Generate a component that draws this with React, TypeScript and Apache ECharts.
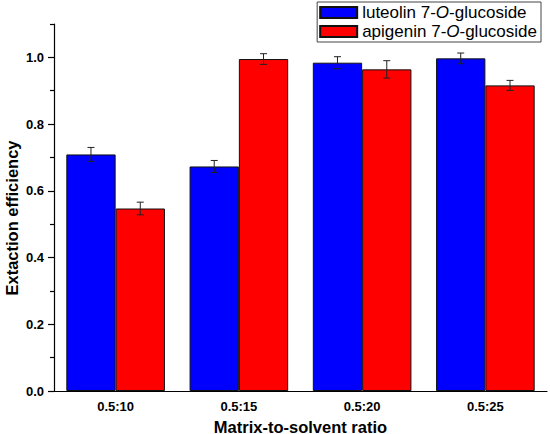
import { useEffect, useRef } from "react";
import * as echarts from "echarts";

const categories = ["0.5:10", "0.5:15", "0.5:20", "0.5:25"];
const luteolin = [0.709, 0.673, 0.984, 0.997];
const luteolinErr = [0.021, 0.018, 0.018, 0.016];
const apigenin = [0.547, 0.995, 0.964, 0.916];
const apigeninErr = [0.019, 0.016, 0.026, 0.015];
const yMajor = [0, 0.2, 0.4, 0.6, 0.8, 1.0];
const yMinor = [0.1, 0.3, 0.5, 0.7, 0.9, 1.1];

const FONT = "Arial, 'Liberation Sans', sans-serif";

function errorSeries(values: number[], errs: number[], offset: number) {
  return {
    type: "custom",
    z: 5,
    silent: true,
    xAxisIndex: 0,
    yAxisIndex: 0,
    encode: { x: 0, y: [1, 2] },
    data: values.map((v, i) => [i, v - errs[i], v + errs[i]]),
    renderItem: (_params: any, api: any) => {
      const i = api.value(0);
      const lo = api.coord([i, api.value(1)]);
      const hi = api.coord([i, api.value(2)]);
      const band = api.size([1, 0])[0];
      const x = hi[0] + offset * band;
      const cap = 3.5;
      const style = { stroke: "#222", lineWidth: 1 };
      return {
        type: "group",
        children: [
          { type: "line", shape: { x1: x, y1: hi[1], x2: x, y2: lo[1] }, style },
          { type: "line", shape: { x1: x - cap, y1: hi[1], x2: x + cap, y2: hi[1] }, style },
          { type: "line", shape: { x1: x - cap, y1: lo[1], x2: x + cap, y2: lo[1] }, style },
        ],
      };
    },
  };
}

export default function App() {
  const ref = useRef<HTMLDivElement | null>(null);

  useEffect(() => {
    if (!ref.current) return;
    const chart = echarts.init(ref.current, undefined, { renderer: "svg" });

    // italic O in "7-O-glucoside"
    const legendFormatter = (name: string) => {
      const parts = name.split("7-O-");
      return parts[0] + "7-{i|O}-" + parts[1];
    };

    const option: any = {
      animation: false,
      backgroundColor: "#fff",
      textStyle: { fontFamily: FONT },
      grid: { left: 54, right: 3, top: 24, bottom: 43, containLabel: false, outerBoundsMode: "none" },
      legend: {
        data: ["luteolin 7-O-glucoside", "apigenin 7-O-glucoside"],
        orient: "vertical",
        right: 9,
        top: 2,
        itemWidth: 37,
        itemHeight: 11,
        itemGap: 0,
        padding: [1, 4, 1, 2],
        borderColor: "#444",
        borderWidth: 1,
        icon: "rect",
        formatter: legendFormatter,
        textStyle: {
          fontFamily: FONT,
          fontSize: 17,
          lineHeight: 19,
          color: "#000",
          rich: { i: { fontStyle: "italic", fontSize: 17, lineHeight: 19, fontFamily: FONT, color: "#000" } },
        },
      },
      xAxis: [
        {
          type: "category",
          data: categories,
          name: "Matrix-to-solvent ratio",
          nameLocation: "middle",
          nameGap: 27,
          nameTextStyle: { fontFamily: FONT, fontSize: 16.5, fontWeight: "bold", color: "#000" },
          axisLine: { lineStyle: { color: "#000", width: 1.2 } },
          axisTick: { alignWithLabel: true, length: 6, lineStyle: { color: "#000", width: 1.2 } },
          axisLabel: { fontFamily: FONT, fontSize: 13, fontWeight: "bold", color: "#000", margin: 9 },
        },
        {
          type: "category",
          data: categories,
          position: "bottom",
          axisLine: { show: false },
          axisTick: { length: 4, lineStyle: { color: "#000", width: 1.2 } },
          axisLabel: { show: false },
        },
      ],
      yAxis: [
        {
          type: "value",
          min: 0,
          max: 1.1,
          name: "Extaction efficiency",
          nameLocation: "middle",
          nameGap: 34,
          nameMoveOverlap: false,
          nameTextStyle: {
            fontFamily: FONT,
            fontSize: 16.5,
            lineHeight: 17,
            fontWeight: "bold",
            color: "#000",
            padding: [0, 21, 0, 0],
          },
          splitLine: { show: false },
          axisLine: { show: true, lineStyle: { color: "#000", width: 1.2 } },
          axisTick: { show: true, length: 6, customValues: yMajor, lineStyle: { color: "#000", width: 1.2 } },
          axisLabel: {
            customValues: yMajor,
            formatter: (v: number) => v.toFixed(1),
            fontFamily: FONT,
            fontSize: 13,
            fontWeight: "bold",
            color: "#000",
            margin: 10,
          },
        },
        {
          type: "value",
          min: 0,
          max: 1.1,
          position: "left",
          splitLine: { show: false },
          axisLine: { show: false },
          axisTick: { show: true, length: 4, customValues: yMinor, lineStyle: { color: "#000", width: 1.2 } },
          axisLabel: { show: false },
        },
      ],
      series: [
        {
          type: "bar",
          name: "luteolin 7-O-glucoside",
          data: luteolin,
          barGap: "0%",
          barCategoryGap: "20%",
          itemStyle: { color: "#0000ff", borderColor: "#111", borderWidth: 1 },
        },
        {
          type: "bar",
          name: "apigenin 7-O-glucoside",
          data: apigenin,
          barGap: "0%",
          barCategoryGap: "20%",
          itemStyle: { color: "#ff0000", borderColor: "#111", borderWidth: 1 },
        },
        errorSeries(luteolin, luteolinErr, -0.2),
        errorSeries(apigenin, apigeninErr, 0.2),
      ],
    };

    chart.setOption(option);
    return () => {
      chart.dispose();
    };
  }, []);

  return (
    <div
      ref={ref}
      style={{ position: "absolute", left: 0, top: 0, width: 550, height: 434 }}
    />
  );
}
